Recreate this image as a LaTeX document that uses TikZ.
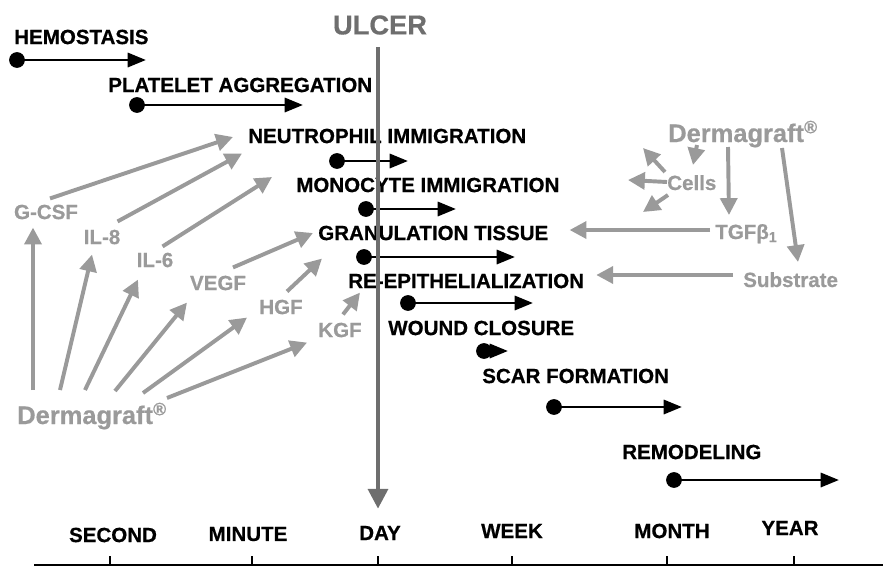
\documentclass[tikz,border=0pt]{standalone}
\usepackage{fontspec}
\setmainfont{Liberation Sans}[BoldFeatures={FakeBold=0.6}]
\usetikzlibrary{calc,positioning,arrows.meta}

\definecolor{cytogray}{HTML}{9A9A9A}
\definecolor{ulcergray}{HTML}{6E6E6E}

\begin{document}
\begin{tikzpicture}[x=0.025cm,y=-0.025cm,
    phase/.style={font=\fontsize{14.6}{17}\selectfont\bfseries,inner sep=0pt,anchor=west},
    phase_arrow/.style={line width=2.1pt,-{Triangle[length=13pt,width=10pt]}},
    cyto/.style={font=\fontsize{14.6}{17}\selectfont\bfseries,text=cytogray,inner sep=0pt},
    cyto_arrow/.style={color=cytogray,line width=2.8pt,-{Triangle[length=12pt,width=12pt]}},
    derm/.style={font=\fontsize{18.1}{21}\selectfont\bfseries,text=cytogray,inner sep=0pt,anchor=base west}]

  \useasboundingbox (0,0) rectangle (883,567);

  % healing phases
  \foreach \n/\lab/\lx/\ly/\xs/\xe/\ya in {
      hemo/HEMOSTASIS/14/37/17/146/60,
      plat/PLATELET AGGREGATION/108/85/137/303/105,
      neut/NEUTROPHIL IMMIGRATION/248/136/337/408/161,
      mono/MONOCYTE IMMIGRATION/296/185/366/456/209,
      gran/GRANULATION TISSUE/318/233/364/515/257,
      reep/RE-EPITHELIALIZATION/348/281/408/533/303,
      wound/WOUND CLOSURE/388/328/484/508/351,
      scar/SCAR FORMATION/482/376/554/682/407,
      remod/REMODELING/622/452/674/839/480}{

    \node [phase] at(\lx,\ly) (\n) {\lab};
    \coordinate (\n_start) at(\xs,\ya);
    \coordinate (\n_end) at(\xe,\ya);
    \draw [phase_arrow] (\n_start) -- (\n_end);
    \fill (\n_start) circle (5.6pt);

  }

  % time axis
  \draw [line width=2pt] (34,565) -- (883,565);
  \foreach \n/\lab/\lx/\ly/\tx in {second/SECOND/113/535/110, minute/MINUTE/248/534/252,
      day/DAY/380/533/378, week/WEEK/512/531/512, month/MONTH/672/531/667, year/YEAR/790/528/794}{
    \node [phase,anchor=center] at(\lx,\ly) (\n) {\lab};
    \draw [line width=1.2pt] (\tx,556) -- (\tx,565);
  }

  \node [font=\fontsize{19.4}{22}\selectfont\bfseries,text=ulcergray,inner sep=0pt] at(380,25) (ulcer) {ULCER};
  \draw [color=ulcergray,line width=2.8pt,-{Triangle[length=14pt,width=14pt]}]
    ($(ulcer.south)+(-2,12)$) -- ($(day.north)+(-2,-17)$);

  % growth factors from the left
  \node [derm] at(17,424) (derm_left) {Dermagraft\textsuperscript{®}};
  \node [cyto] at(46,212) (gcsf) {G-CSF};
  \node [cyto] at(102,237) (il8) {IL-8};
  \node [cyto] at(155,260) (il6) {IL-6};
  \node [cyto] at(218,283) (vegf) {VEGF};
  \node [cyto] at(281,307) (hgf) {HGF};
  \node [cyto] at(340,330) (kgf) {KGF};

  \draw [cyto_arrow] ($(derm_left.base west)+(16,-34)$) -- ($(gcsf.south)+(-13,8)$);
  \draw [cyto_arrow] ($(derm_left.base west)+(43,-34)$) -- ($(il8.south)+(-10,10)$);
  \draw [cyto_arrow] ($(derm_left.base west)+(68,-34)$) -- ($(il6.south)+(-17,12)$);
  \draw [cyto_arrow] ($(derm_left.base west)+(98,-33)$) -- ($(vegf.south)+(-31,12)$);
  \draw [cyto_arrow] ($(derm_left.base west)+(126,-31)$) -- ($(hgf.south west)+(-12,3)$);
  \draw [cyto_arrow] ($(derm_left.base west)+(150,-26)$) -- ($(kgf.south west)+(-11,5)$);

  \draw [cyto_arrow] ($(gcsf.north)+(4,-6)$) -- ($(neut.west)+(-15,1)$);
  \draw [cyto_arrow] ($(il8.north east)+(-3,-8)$) -- ($(neut.south west)+(-6,10)$);
  \draw [cyto_arrow] ($(il6.north east)+(-11,-6)$) -- ($(mono.west)+(-24,-8)$);
  \draw [cyto_arrow] ($(vegf.north)+(15,-8)$) -- ($(gran.west)+(-5,0)$);
  \draw [cyto_arrow] ($(hgf.north)+(6,-8)$) -- ($(gran.south west)+(4,18)$);
  \draw [cyto_arrow] ($(kgf.north)+(3,-8)$) -- ($(reep.south west)+(12,4)$);

  % Dermagraft on the right
  \node [derm] at(668,142) (derm_right) {Dermagraft\textsuperscript{®}};
  \node [cyto,anchor=base west] at(667,190) (cells) {Cells};
  \node [cyto,anchor=base west] at(715,239) (tgf) {TGFβ\textsubscript{1}};
  \node [cyto,anchor=base west] at(743,287) (subst) {Substrate};

  \draw [cyto_arrow] ($(derm_right.base west)+(29,3)$) -- ($(cells.base west)+(26,-25)$);
  \draw [cyto_arrow] ($(cells.base west)+(-2,-18)$) -- ($(cells.base west)+(-24,-42)$);
  \draw [cyto_arrow] ($(cells.base west)+(0,-8)$) -- ($(cells.base west)+(-39,-10)$);
  \draw [cyto_arrow] ($(cells.base west)+(1,5)$) -- ($(cells.base west)+(-24,22)$);
  \draw [cyto_arrow] ($(derm_right.base west)+(60,5)$) -- ($(tgf.base west)+(14,-24)$);
  \draw [cyto_arrow] ($(derm_right.base west)+(114,6)$) -- ($(subst.base west)+(55,-25)$);
  \draw [cyto_arrow] ($(tgf.base west)+(-5,-9)$) -- ($(gran.east)+(21,-3)$);
  \draw [cyto_arrow] ($(subst.base west)+(-10,-12)$) -- ($(reep.east)+(12,-6)$);

\end{tikzpicture}
\end{document}
